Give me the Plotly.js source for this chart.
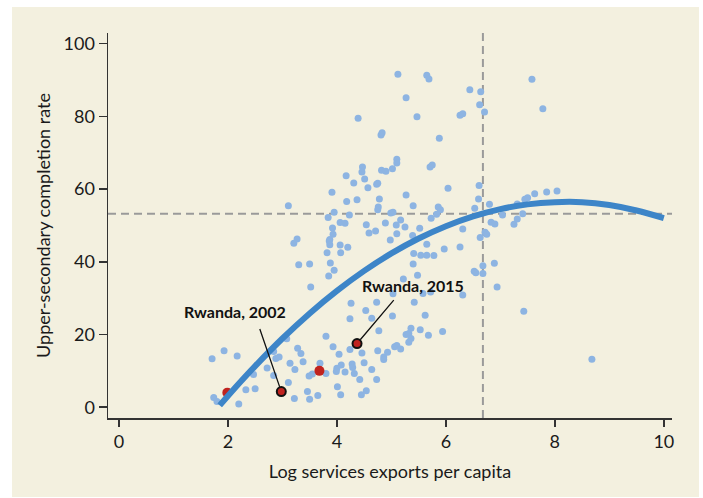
<!DOCTYPE html>
<html><head><meta charset="utf-8">
<script src="https://cdn.plot.ly/plotly-3.0.1.min.js"></script>
<style>
html,body{margin:0;padding:0;background:#ffffff;}
#bg{position:absolute;left:12px;top:7px;width:687px;height:490px;background:#f3f0df;}
#chart{position:absolute;left:0;top:0;width:703px;height:498px;}
</style>
</head><body>
<div id="bg"></div>
<div id="chart"></div>
<script>
// Country-year observations (log services exports per capita, upper-secondary completion rate)
const countryX = [5.12,5.65,5.69,5.27,6.44,6.64,6.62,6.71,4.39,5.47,6.26,6.31,4.81,4.83,5.88,5.10,5.10,4.47,4.46,4.82,
  4.90,5.02,5.71,5.75,4.17,4.51,4.31,4.57,4.73,4.75,3.91,5.27,6.04,6.61,3.11,4.18,4.37,4.78,4.76,4.75,
  5.40,5.86,5.90,6.53,6.60,3.84,3.95,4.23,4.06,4.15,3.92,3.93,4.54,4.59,4.71,4.89,4.99,5.03,5.17,5.09,
  5.25,5.10,5.52,5.39,5.73,5.83,6.31,3.27,3.87,4.98,7.58,7.78,6.80,6.83,6.90,6.63,6.72,6.75,7.04,7.25,
  7.31,7.41,7.31,7.45,7.50,7.63,7.85,8.04,6.26,6.68,6.68,6.52,6.89,6.94,6.31,7.43,8.68,3.21,3.86,3.87,
  4.06,4.20,3.82,4.07,3.88,3.95,3.85,3.30,3.50,3.52,5.65,5.41,5.54,5.65,5.78,5.97,5.40,5.48,5.22,6.55,
  5.58,5.72,5.03,5.42,4.26,4.73,4.53,4.64,4.24,5.02,5.62,4.77,5.36,5.27,5.32,5.36,5.32,5.53,5.68,5.94,
  3.80,3.93,4.04,4.24,4.46,4.75,4.86,4.86,4.93,5.06,5.10,5.17,4.00,4.08,3.99,3.80,3.69,3.49,3.55,3.34,
  3.38,3.14,3.23,4.28,4.29,4.15,4.32,4.50,4.64,4.42,4.54,4.45,4.73,4.01,4.07,3.65,3.46,3.50,3.22,3.11,
  3.28,3.08,1.71,1.93,2.17,2.84,2.88,2.94,2.47,2.72,2.84,2.33,2.50,2.20,1.74,1.80];
const countryY = [91.6,91.3,90.3,85.1,87.3,86.8,83.2,81.2,79.5,79.9,80.3,80.7,74.9,75.5,74.0,68.2,67.2,66.1,64.7,65.2,
  64.9,65.6,66.1,66.6,63.7,62.8,61.7,60.4,61.3,61.6,59.1,58.4,60.2,61.0,55.4,56.6,57.1,57.3,55.1,54.3,
  55.4,55.1,54.3,54.7,57.3,52.2,53.6,52.9,50.8,50.6,49.3,47.6,50.2,47.9,48.5,50.7,53.4,53.6,51.5,50.1,
  49.6,47.7,49.2,47.2,52.0,53.1,49.0,46.3,46.1,46.0,90.2,82.1,55.8,50.9,50.4,46.7,48.1,47.6,52.9,50.3,
  51.8,53.2,55.9,57.2,57.6,58.7,59.2,59.5,44.1,38.9,36.8,37.4,39.6,33.1,30.9,26.4,13.2,45.1,45.7,44.7,
  44.6,44.0,42.5,42.5,39.7,37.7,36.1,39.2,39.4,33.1,44.8,42.3,41.8,41.8,41.7,43.5,39.4,36.3,35.3,37.0,
  31.3,31.7,31.2,28.9,28.6,28.9,26.6,24.5,24.3,25.1,25.3,21.0,21.7,20.0,20.3,18.9,17.9,21.3,19.8,20.8,
  19.5,16.6,14.6,15.9,14.9,15.5,13.8,13.1,15.1,16.6,17.0,16.0,10.7,11.6,9.8,9.3,12.1,8.6,9.1,14.8,
  12.5,12.1,10.4,11.9,10.9,9.7,9.3,12.2,10.4,7.6,4.5,3.4,7.6,5.6,3.4,3.2,4.3,2.2,2.4,6.8,
  16.2,18.8,13.3,15.5,14.1,15.3,13.4,13.8,9.0,10.8,8.7,4.8,5.1,0.9,2.7,1.6];

// Highlighted (red) observations
const redX = [3.68, 1.99];
const redY = [10.0, 4.0];

// Rwanda observations
const rwandaX = [2.98, 4.37];
const rwandaY = [4.3, 17.5];
const rwandaLabels = ['Rwanda, 2002', 'Rwanda, 2015'];
const rwandaLabelX = [2.13, 5.39];
const rwandaLabelY = [26.3, 33.6];

// Fitted curve
const fitX = [1.85, 2.0, 2.5, 3.0, 3.5, 4.0, 4.5, 5.0, 5.5, 6.0, 6.5, 7.0, 7.5, 8.0, 8.5, 9.0, 9.5, 10.0];
const fitY = [0.5, 3.1, 11.3, 18.9, 25.8, 32.0, 37.5, 42.3, 46.4, 49.8, 52.5, 54.5, 55.8, 56.4, 56.4, 55.6, 54.1, 52.0];

// Reference lines
const refX = 6.68;
const refY = 53.2;

const xTicks = [0, 2, 4, 6, 8, 10];
const yTicks = [0, 20, 40, 60, 80, 100];

const FONT = 'Lato, "Open Sans", sans-serif';

const traces = [
  {x: countryX, y: countryY, type: 'scatter', mode: 'markers', hoverinfo: 'skip',
   marker: {color: '#8db4e2', size: 7}},
  {x: redX, y: redY, type: 'scatter', mode: 'markers', hoverinfo: 'skip',
   marker: {color: '#c0231f', size: 10}},
  {x: fitX, y: fitY, type: 'scatter', mode: 'lines', hoverinfo: 'skip',
   line: {color: '#3d85c8', width: 6, shape: 'spline'}},
  {x: rwandaX, y: rwandaY, type: 'scatter', mode: 'markers', hoverinfo: 'skip',
   marker: {color: '#c0231f', size: 9, line: {color: '#111111', width: 2}}}
];

const annotations = [];
for (let i = 0; i < rwandaX.length; i++) {
  annotations.push({x: rwandaLabelX[i], y: rwandaLabelY[i], xref: 'x', yref: 'y', text: rwandaLabels[i],
    showarrow: false, font: {family: FONT, size: 16, color: '#111111', weight: 700}});
}
annotations.push({x: rwandaX[0], y: rwandaY[0], xref: 'x', yref: 'y', text: '', showarrow: true,
  arrowhead: 0, arrowwidth: 1.3, arrowcolor: '#111111', ax: -22, ay: -64, standoff: 5});
annotations.push({x: rwandaX[1], y: rwandaY[1], xref: 'x', yref: 'y', text: '', showarrow: true,
  arrowhead: 0, arrowwidth: 1.3, arrowcolor: '#111111', ax: 38, ay: -45, standoff: 5});

const layout = {
  width: 703, height: 498,
  margin: {l: 108, r: 31, t: 33, b: 80, pad: 0},
  paper_bgcolor: 'rgba(0,0,0,0)',
  plot_bgcolor: 'rgba(0,0,0,0)',
  showlegend: false,
  font: {family: FONT, size: 18, color: '#1a1a1a'},
  xaxis: {range: [-0.2, 10.15], tickvals: xTicks, ticktext: xTicks.map(String),
    ticks: 'outside', ticklen: 7, tickwidth: 1.5, tickcolor: '#333333',
    showline: true, linecolor: '#333333', linewidth: 1.5, showgrid: false, zeroline: false,
    tickfont: {family: FONT, size: 18, color: '#1a1a1a'},
    title: {text: 'Log services exports per capita', font: {family: FONT, size: 18, color: '#1a1a1a'}, standoff: 14}},
  yaxis: {range: [-2.97, 102.94], tickvals: yTicks, ticktext: yTicks.map(String),
    ticks: 'outside', ticklen: 8, tickwidth: 1.5, tickcolor: '#333333',
    showline: true, linecolor: '#333333', linewidth: 1.5, showgrid: false, zeroline: false,
    tickfont: {family: FONT, size: 18, color: '#1a1a1a'},
    title: {text: 'Upper-secondary completion rate', font: {family: FONT, size: 18, color: '#1a1a1a'}, standoff: 8}},
  shapes: [
    {type: 'line', xref: 'paper', yref: 'y', x0: 0, x1: 1, y0: refY, y1: refY, layer: 'below',
     line: {color: '#9a9a9a', width: 2, dash: '8px,5px'}},
    {type: 'line', xref: 'x', yref: 'paper', x0: refX, x1: refX, y0: 0, y1: 1, layer: 'below',
     line: {color: '#9a9a9a', width: 2, dash: '8px,5px'}}
  ],
  annotations: annotations
};

Plotly.newPlot('chart', traces, layout, {displayModeBar: false, staticPlot: true});
</script>
</body></html>
